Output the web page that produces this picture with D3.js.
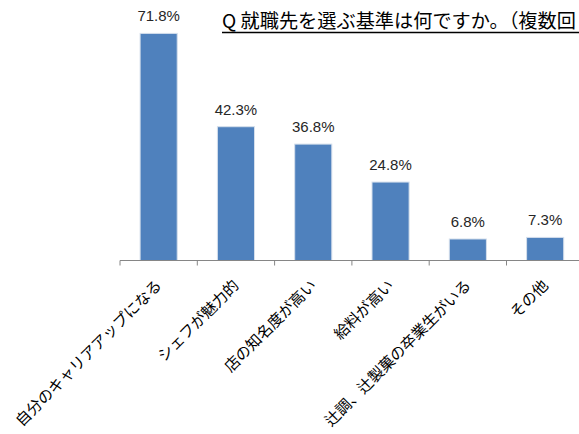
<!DOCTYPE html>
<html>
<head>
<meta charset="utf-8">
<script src="https://cdn.jsdelivr.net/npm/d3@7"></script>
<style>
  body { margin: 0; background: #fff; }
  svg { display: block; overflow: hidden; }
  .title { font-family: 'Noto Sans CJK JP', sans-serif; font-size: 19.2px; fill: #000; }
  .value-label { font-family: 'Liberation Sans', Arial, sans-serif; font-size: 15px; fill: #262626; }
  .cat-label { font-family: 'Noto Sans CJK JP', sans-serif; font-size: 15.3px; fill: #000; }
</style>
</head>
<body>
<svg id="bar-svg"></svg>
<script>
// Chart data
const categories = [
  '自分のキャリアアップになる',
  'シェフが魅力的',
  '店の知名度が高い',
  '給料が高い',
  '辻調、辻製菓の卒業生がいる',
  'その他',
];
const values = [71.8, 42.3, 36.8, 24.8, 6.8, 7.3];
const valueLabels = ['71.8%', '42.3%', '36.8%', '24.8%', '6.8%', '7.3%'];
// The title runs past the right edge in the original; only the visible part is kept
const titleText = 'Q 就職先を選ぶ基準は何ですか。（複数回';
const valueDomain = [0, 80];

const width = 579;
const height = 434;

/**
 * Adds the underlined title
 * @param {*} svg The d3 selection of the svg
 */
function addTitle(svg) {
  const t = svg.append('text')
    .attr('class', 'title')
    .attr('x', 222)
    .attr('y', 28)
    .text(titleText);
  const len = t.node().getComputedTextLength();
  svg.append('line')
    .attr('x1', 222)
    .attr('x2', Math.max(222 + len, width))
    .attr('y1', 32.5)
    .attr('y2', 32.5)
    .attr('stroke', '#000')
    .attr('stroke-width', 1.3);
}

function generateXScale() {
  return d3.scaleBand().domain(categories).range([120, 120 + 77.3 * categories.length]).padding(0);
}

function generateYScale() {
  return d3.scaleLinear().domain(valueDomain).range([260.5, 260.5 - 80 * 3.163]);
}

const svg = d3.select('#bar-svg').attr('width', width).attr('height', height);

const xScale = generateXScale();
const yScale = generateYScale();
const barW = xScale.bandwidth() * 0.48;

// Bars
svg.append('g')
  .selectAll('rect')
  .data(values)
  .enter()
  .append('rect')
  .attr('x', (d, i) => xScale(categories[i]) + (xScale.bandwidth() - barW) / 2)
  .attr('y', (d) => yScale(d))
  .attr('width', barW)
  .attr('height', (d) => yScale(0) - yScale(d))
  .attr('fill', '#4f81bd')
  .attr('stroke', '#d5dfec')
  .attr('stroke-width', 1);

// Value labels
svg.append('g')
  .selectAll('text')
  .data(values)
  .enter()
  .append('text')
  .attr('class', 'value-label')
  .attr('text-anchor', 'middle')
  .attr('x', (d, i) => xScale(categories[i]) + xScale.bandwidth() / 2)
  .attr('y', (d) => yScale(d) - 12)
  .text((d, i) => valueLabels[i]);

// Category axis
const axisY = yScale(0);
const axisG = svg.append('g');
axisG.append('line')
  .attr('x1', xScale.range()[0])
  .attr('x2', xScale.range()[1])
  .attr('y1', axisY)
  .attr('y2', axisY)
  .attr('stroke', '#868686')
  .attr('stroke-width', 1);
axisG.selectAll('.tick')
  .data(categories.concat([null]))
  .enter()
  .append('line')
  .attr('x1', (d) => (d === null ? xScale.range()[1] : xScale(d)))
  .attr('x2', (d) => (d === null ? xScale.range()[1] : xScale(d)))
  .attr('y1', axisY)
  .attr('y2', axisY + 5)
  .attr('stroke', '#868686');

axisG.selectAll('.cat-label')
  .data(categories)
  .enter()
  .append('text')
  .attr('class', 'cat-label')
  .attr('text-anchor', 'end')
  .attr('transform', (d) => {
    const cx = xScale(d) + xScale.bandwidth() / 2 + 4;
    return 'translate(' + cx + ',' + (axisY + 26) + ') rotate(-45)';
  })
  .text((d) => d);

addTitle(svg);
</script>
</body>
</html>
